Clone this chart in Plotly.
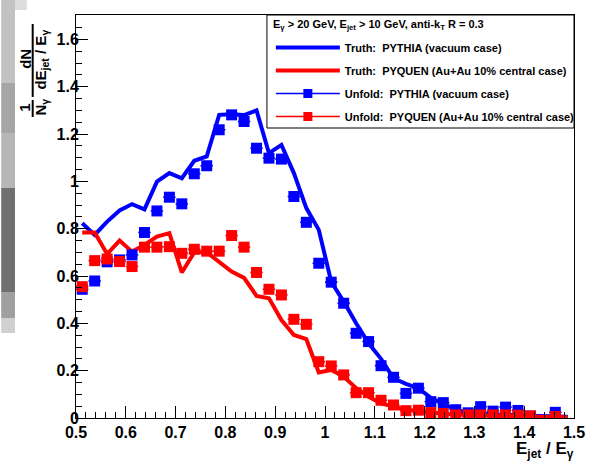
import plotly.graph_objects as go

# bin centres of E_jet / E_gamma
e_ratio = [0.5125, 0.5375, 0.5625, 0.5875, 0.6125, 0.6375, 0.6625, 0.6875, 0.7125, 0.7375,
           0.7625, 0.7875, 0.8125, 0.8375, 0.8625, 0.8875, 0.9125, 0.9375, 0.9625, 0.9875,
           1.0125, 1.0375, 1.0625, 1.0875, 1.1125, 1.1375, 1.1625, 1.1875, 1.2125, 1.2375,
           1.2625, 1.2875, 1.3125, 1.3375, 1.3625, 1.3875, 1.4125, 1.4375, 1.4625, 1.4875]

truth_pythia = [0.823, 0.774, 0.830, 0.877, 0.904, 0.882, 0.999, 1.035, 1.013, 1.087,
                1.105, 1.281, 1.284, 1.280, 1.300, 1.119, 1.154, 1.035, 0.887, 0.795,
                0.576, 0.492, 0.400, 0.316, 0.250, 0.168, 0.144, 0.126, 0.085, 0.060,
                0.035, 0.020, 0.020, 0.015, 0.015, 0.012, 0.010, 0.008, 0.006, 0.005]

truth_pyquen = [0.784, 0.784, 0.693, 0.750, 0.703, 0.731, 0.767, 0.781, 0.615, 0.700,
                0.700, 0.661, 0.619, 0.592, 0.516, 0.506, 0.414, 0.351, 0.333, 0.192,
                0.203, 0.175, 0.126, 0.090, 0.062, 0.048, 0.035, 0.030, 0.022, 0.018,
                0.015, 0.012, 0.010, 0.010, 0.008, 0.008, 0.006, 0.005, 0.004, 0.003]

unfold_pythia = [0.544, 0.579, 0.660, 0.668, 0.689, 0.784, 0.875, 0.933, 0.905, 1.032,
                 1.066, 1.218, 1.281, 1.253, 1.140, 1.098, 1.094, 0.936, 0.827, 0.654,
                 0.574, 0.485, 0.358, 0.323, 0.221, 0.172, 0.104, 0.126, 0.069, 0.065,
                 0.035, 0.022, 0.048, 0.029, 0.046, 0.032, 0.008, None, 0.024, None]

unfold_pyquen = [0.555, 0.665, 0.672, 0.661, 0.640, 0.722, 0.722, 0.724, 0.696, 0.713,
                 0.705, 0.705, 0.771, 0.722, 0.615, 0.544, 0.520, 0.417, 0.396, 0.238,
                 0.220, 0.182, 0.107, 0.107, 0.075, 0.055, 0.031, 0.033, 0.023, 0.019,
                 0.013, 0.013, 0.013, 0.013, 0.013, 0.012, 0.009, None, 0.006, None]

half_bin = 0.0125

FONT = "Liberation Sans, Arial, sans-serif"
BLUE = "#0000ff"
RED = "#ff0000"

W, H = 597, 469
L, R, T, B = 76, 15, 15, 51


def px_x(px):
    return (px - L) / (W - L - R)


def px_y(py):
    return (H - B - py) / (H - B - T)


fig = go.Figure()

fig.add_scatter(x=e_ratio, y=truth_pythia, mode="lines", name="Truth:\u00a0 PYTHIA (vacuum case)",
                line=dict(color=BLUE, width=4), legendgroup="a")
fig.add_scatter(x=e_ratio, y=truth_pyquen, mode="lines", name="Truth:\u00a0 PYQUEN (Au+Au 10% central case)",
                line=dict(color=RED, width=4), legendgroup="b")

for vals, col in [(unfold_pythia, BLUE), (unfold_pyquen, RED)]:
    fig.add_scatter(x=e_ratio, y=vals, mode="markers", showlegend=False,
                    marker=dict(symbol="square", size=11, color=col),
                    error_x=dict(type="constant", value=half_bin, color=col, thickness=1.5, width=0))

# legend proxies (line + marker like the ROOT legend)
fig.add_scatter(x=[None], y=[None], mode="lines+markers", name="Unfold:\u00a0 PYTHIA (vacuum case)",
                line=dict(color=BLUE, width=1.5), marker=dict(symbol="square", size=9, color=BLUE),
                legendgroup="c")
fig.add_scatter(x=[None], y=[None], mode="lines+markers", name="Unfold:\u00a0 PYQUEN (Au+Au 10% central case)",
                line=dict(color=RED, width=1.5), marker=dict(symbol="square", size=9, color=RED),
                legendgroup="d")

tickfont = dict(family=FONT, size=16, color="black", weight="bold")
axis_common = dict(showgrid=False, zeroline=False, showline=True, linecolor="black", linewidth=1,
                   mirror=True, ticks="inside", ticklen=12, tickwidth=1, tickcolor="black",
                   tickfont=tickfont)

fig.update_xaxes(range=[0.5, 1.5], tick0=0.5, dtick=0.1,
                 minor=dict(dtick=0.02, ticks="inside", ticklen=6, tickcolor="black"), **axis_common)
fig.update_yaxes(range=[0, 1.703], tick0=0, dtick=0.2, ticklabelstandoff=-7,
                 minor=dict(dtick=0.05, ticks="inside", ticklen=6, tickcolor="black"), **axis_common)

shapes = []
# grey slide edge on the far left
for y0, y1, col in [(0, 83, "#c2c2c2"), (83, 133, "#a6a6a6"), (133, 188, "#b6b6b6"),
                    (188, 292, "#707070"), (292, 318, "#a0a0a0"), (318, 333, "#d0d0d0")]:
    shapes.append(dict(type="rect", xref="paper", yref="paper", x0=px_x(0), x1=px_x(14),
                       y0=px_y(y1), y1=px_y(y0), fillcolor=col, line=dict(width=0), layer="below"))
shapes.append(dict(type="rect", xref="paper", yref="paper", x0=px_x(14), x1=px_x(26),
                   y0=px_y(10), y1=px_y(0), fillcolor="#dcdcdc", line=dict(width=0), layer="below"))

# legend frame
shapes.append(dict(type="rect", xref="paper", yref="paper", x0=px_x(270), x1=1,
                   y0=px_y(128), y1=1, line=dict(color="black", width=1), fillcolor="white",
                   layer="below"))

# fraction bars of the y title
shapes.append(dict(type="line", xref="paper", yref="paper", x0=px_x(32), x1=px_x(32),
                   y0=px_y(100), y1=px_y(117), line=dict(color="black", width=2)))
shapes.append(dict(type="line", xref="paper", yref="paper", x0=px_x(32), x1=px_x(32),
                   y0=px_y(24), y1=px_y(97), line=dict(color="black", width=2)))

tfont = dict(family=FONT, size=15, color="black", weight="bold")
annotations = [
    dict(text="1", x=px_x(24), y=px_y(108), textangle=-90, font=tfont),
    dict(text="N<sub>γ</sub>", x=px_x(40), y=px_y(107), textangle=-90, font=tfont),
    dict(text="dN", x=px_x(24), y=px_y(59), textangle=-90, font=tfont),
    dict(text="dE<sub>jet</sub> / E<sub>γ</sub>", x=px_x(40), y=px_y(60), textangle=-90, font=tfont),
    dict(text="E<sub>jet</sub> / E<sub>γ</sub>", x=px_x(584), y=px_y(450), xanchor="right",
         font=dict(family=FONT, size=17, color="black", weight="bold")),
    dict(text="E<sub>γ</sub> > 20 GeV, E<sub>jet</sub> > 10 GeV, anti-k<sub>T</sub> R = 0.3",
         x=px_x(274), y=px_y(25), xanchor="left",
         font=dict(family=FONT, size=11, color="black", weight="bold")),
]
for a in annotations:
    a.update(xref="paper", yref="paper", showarrow=False)
    a.setdefault("xanchor", "center")
    a.setdefault("yanchor", "middle")

fig.update_layout(
    width=W, height=H,
    margin=dict(l=L, r=R, t=T, b=B),
    paper_bgcolor="white", plot_bgcolor="white",
    shapes=shapes, annotations=annotations,
    legend=dict(x=px_x(274), y=px_y(33), xanchor="left", yanchor="top",
                bgcolor="rgba(0,0,0,0)", borderwidth=0, tracegroupgap=4, itemwidth=64,
                font=dict(family=FONT, size=11, color="black", weight="bold")),
)

fig.write_html("out.html", config={"displayModeBar": False},
               post_script="document.body.style.margin='0';")
